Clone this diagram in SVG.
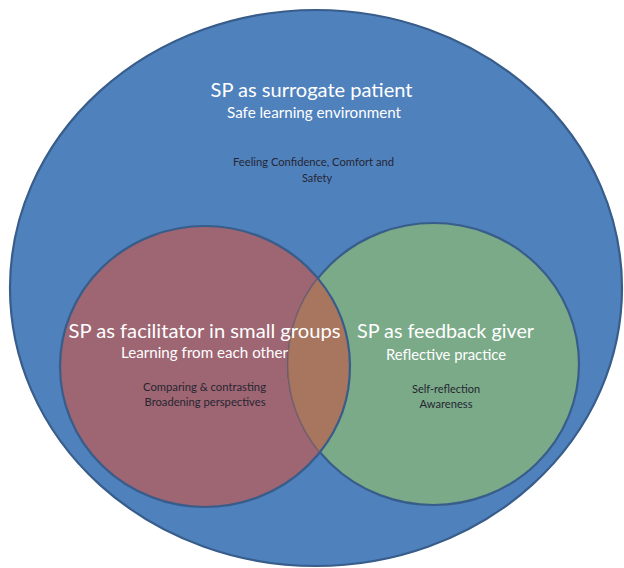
<svg xmlns="http://www.w3.org/2000/svg" width="624" height="568" viewBox="0 0 624 568">
<style>
.sh{stroke:#385D8A;stroke-width:2.2}
.t1{font-family:Lato,"Open Sans",sans-serif;font-size:20px;fill:#FFFFFF;text-anchor:middle}
.t2{font-family:Lato,"Open Sans",sans-serif;font-size:14.5px;fill:#FFFFFF;text-anchor:middle}
.t3{font-family:Lato,"Open Sans",sans-serif;font-size:11px;fill:#262633;text-anchor:middle}
</style>
<rect width="624" height="568" fill="#FFFFFF"/>
<g id="surrogate">
<ellipse class="sh" cx="316" cy="288" rx="306" ry="278" fill="#4F81BD"/>
<text class="t1" x="311.5" y="97" textLength="202" lengthAdjust="spacingAndGlyphs">SP as surrogate patient</text>
<text class="t2" x="314" y="118" textLength="174" lengthAdjust="spacingAndGlyphs">Safe learning environment</text>
<text class="t3" x="313.5" y="166" textLength="161" lengthAdjust="spacingAndGlyphs">Feeling Confidence, Comfort and</text>
<text class="t3" x="317" y="182" textLength="30" lengthAdjust="spacingAndGlyphs">Safety</text>
</g>
<g id="facilitator">
<ellipse class="sh" cx="205" cy="366.5" rx="145" ry="140.5" fill="#9E6572"/>
</g>
<g id="feedback">
<ellipse class="sh" cx="433.5" cy="364" rx="145.5" ry="141" fill="#7AAA88"/>
</g>
<g id="overlap">
<path d="M317.9 278.4 A145 140.5 0 0 1 319.9 452.2 A145.5 141 0 0 1 317.9 278.4 Z" fill="#A8755F"/>
<path d="M319.9 452.2 A145.5 141 0 0 1 317.9 278.4" fill="none" stroke="#8C6363" stroke-width="1.5" opacity="0.7"/>
<path class="sh" d="M317.9 278.4 A145 140.5 0 0 1 319.9 452.2" fill="none"/>
</g>
<g id="labels">
<text class="t1" x="204.5" y="338" textLength="272" lengthAdjust="spacingAndGlyphs">SP as facilitator in small groups</text>
<text class="t2" x="204.5" y="358" textLength="167" lengthAdjust="spacingAndGlyphs">Learning from each other</text>
<text class="t3" x="204.5" y="391" textLength="123" lengthAdjust="spacingAndGlyphs">Comparing &amp; contrasting</text>
<text class="t3" x="205" y="406" textLength="121" lengthAdjust="spacingAndGlyphs">Broadening perspectives</text>
<text class="t1" x="445.5" y="338" textLength="177" lengthAdjust="spacingAndGlyphs">SP as feedback giver</text>
<text class="t2" x="446" y="360" textLength="120" lengthAdjust="spacingAndGlyphs">Reflective practice</text>
<text class="t3" x="446" y="393" textLength="68" lengthAdjust="spacingAndGlyphs">Self-reflection</text>
<text class="t3" x="446" y="408" textLength="53" lengthAdjust="spacingAndGlyphs">Awareness</text>
</g>
</svg>
